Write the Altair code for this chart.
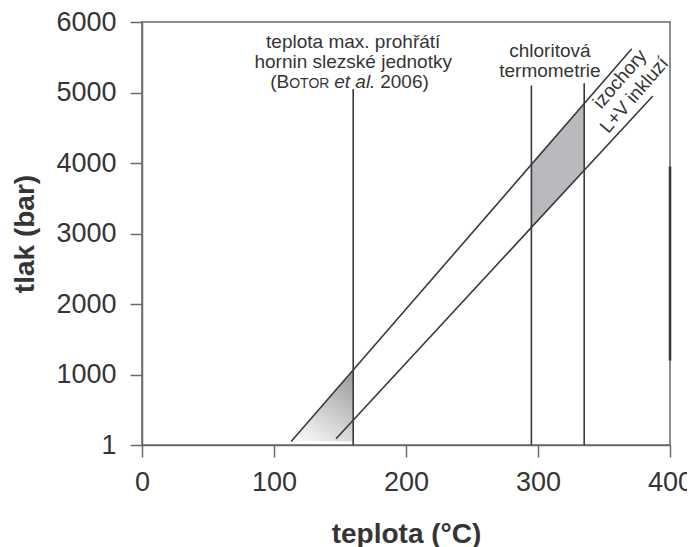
import altair as alt
import pandas as pd

# ---- axis ticks ----
x_ticks = [0, 100, 200, 300, 400]
y_ticks = [1, 1000, 2000, 3000, 4000, 5000, 6000]

# ---- isochores (end points) ----
iso_name = ["upper", "upper", "lower", "lower"]
iso_T = [113, 371, 147, 387]
iso_P = [50, 5620, 90, 4950]

# ---- vertical reference lines ----
vline_T = [160, 295, 335]
vline_top = [5050, 5100, 5130]
vline_bottom = [1, 1, 1]

# ---- dark segment on right frame ----
seg_T = [400]
seg_P1 = [1200]
seg_P2 = [3950]

# ---- shaded fields ----
heat_T = [113, 160]
heat_top = [50, 1060]
heat_bottom = [50, 50]

chl_T = [295, 335]
chl_top = [3995, 4850]
chl_bottom = [3090, 3900]

# ---- annotations ----
note1_text = ["teplota max. prohřátí", "hornin slezské jednotky"]
note1_T = [160, 160]
note1_P = [5630, 5347]
note1b_P = 5063
chl_text = ["chloritová", "termometrie"]
chl_text_T = [309, 309]
chl_text_P = [5506, 5223]
iso_text = ["izochory", "L+V inkluzí"]
iso_text_T = [362, 373]
iso_text_P = [5191, 4964]

FONT = "Liberation Sans"
LINE = "#3a3a3a"
TXT = "#353535"

xscale = alt.Scale(domain=[0, 400], nice=False, zero=False)
yscale = alt.Scale(domain=[1, 6000], nice=False, zero=False)
xaxis = alt.Axis(values=x_ticks, format="d", title="teplota (°C)", labelPadding=12,
                 labelFlush=False, titlePadding=25)
yaxis = alt.Axis(values=y_ticks, format="d", title="tlak (bar)", labelPadding=14,
                 labelFlush=False, titlePadding=16)


def X(f):
    return alt.X(f, type="quantitative", scale=xscale, axis=xaxis)


def Y(f):
    return alt.Y(f, type="quantitative", scale=yscale, axis=yaxis)


heat_df = pd.DataFrame({"T": heat_T, "top": heat_top, "bottom": heat_bottom})
chl_df = pd.DataFrame({"T": chl_T, "top": chl_top, "bottom": chl_bottom})
iso_df = pd.DataFrame({"name": iso_name, "T": iso_T, "P": iso_P})
vl_df = pd.DataFrame({"T": vline_T, "top": vline_top, "bottom": vline_bottom})
seg_df = pd.DataFrame({"T": seg_T, "p1": seg_P1, "p2": seg_P2})

heat = alt.Chart(heat_df).mark_area(
    color=alt.Gradient(
        gradient="linear",
        stops=[alt.GradientStop(color="#f8f8f8", offset=0),
               alt.GradientStop(color="#a0a0a0", offset=1)],
        x1=0.2, y1=1, x2=0.8, y2=0,
    )
).encode(x=X("T"), y=Y("top"), y2="bottom")

chl = alt.Chart(chl_df).mark_area(color="#b9babe").encode(
    x=X("T"), y=Y("top"), y2="bottom"
)

iso = alt.Chart(iso_df).mark_line(color=LINE, strokeWidth=1.6).encode(
    x=X("T"), y=Y("P"), detail="name:N"
)

vl = alt.Chart(vl_df).mark_rule(color=LINE, strokeWidth=1.6).encode(
    x=X("T"), y=Y("top"), y2="bottom"
)

seg = alt.Chart(seg_df).mark_rule(color=LINE, strokeWidth=2.6).encode(
    x=X("T"), y=Y("p1"), y2="p2"
)

n1_df = pd.DataFrame({"t": note1_text, "T": note1_T, "P": note1_P})
n1 = alt.Chart(n1_df).mark_text(font=FONT, fontSize=19, color=TXT, align="center",
                                baseline="alphabetic").encode(
    x=X("T"), y=Y("P"), text="t:N")

# third line: (BOTOR et al. 2006) with mixed styles
b1 = alt.Chart(pd.DataFrame({"t": ["(B"], "T": [160], "P": [note1b_P]})).mark_text(
    font=FONT, fontSize=19, color=TXT, align="left", baseline="alphabetic", dx=-83
).encode(x=X("T"), y=Y("P"), text="t:N")
b2 = alt.Chart(pd.DataFrame({"t": ["OTOR"], "T": [160], "P": [note1b_P]})).mark_text(
    font=FONT, fontSize=14, color=TXT, align="left", baseline="alphabetic", dx=-64
).encode(x=X("T"), y=Y("P"), text="t:N")
b3 = alt.Chart(pd.DataFrame({"t": ["et al."], "T": [160], "P": [note1b_P]})).mark_text(
    font=FONT, fontSize=19, fontStyle="italic", color=TXT, align="left",
    baseline="alphabetic", dx=-19
).encode(x=X("T"), y=Y("P"), text="t:N")
b4 = alt.Chart(pd.DataFrame({"t": ["2006)"], "T": [160], "P": [note1b_P]})).mark_text(
    font=FONT, fontSize=19, color=TXT, align="left", baseline="alphabetic", dx=27
).encode(x=X("T"), y=Y("P"), text="t:N")

c_df = pd.DataFrame({"t": chl_text, "T": chl_text_T, "P": chl_text_P})
ctext = alt.Chart(c_df).mark_text(font=FONT, fontSize=19, color=TXT, align="center",
                                  baseline="alphabetic").encode(
    x=X("T"), y=Y("P"), text="t:N")

i_df = pd.DataFrame({"t": iso_text, "T": iso_text_T, "P": iso_text_P})
itext = alt.Chart(i_df).mark_text(font=FONT, fontSize=19, color=TXT, align="center",
                                  baseline="middle", angle=311).encode(
    x=X("T"), y=Y("P"), text="t:N")

chart = alt.layer(heat, chl, iso, vl, seg, n1, b1, b2, b3, b4, ctext, itext).properties(
    width=528, height=423,
    autosize=alt.AutoSizeParams(type="none"),
    padding={"left": 134, "top": 14, "right": 17, "bottom": 108},
).configure_view(
    stroke="#6a6a6a", strokeWidth=1.5
).configure_axis(
    grid=False, domainColor="#6a6a6a", domainWidth=1.5, tickColor="#6a6a6a",
    tickWidth=1.5, tickSize=12, labelFont=FONT, labelFontSize=27, labelColor=TXT,
    titleFont=FONT, titleFontSize=28, titleFontWeight="bold", titleColor=TXT,
)

chart.save("out.html", embed_options={"renderer": "svg", "actions": False})
